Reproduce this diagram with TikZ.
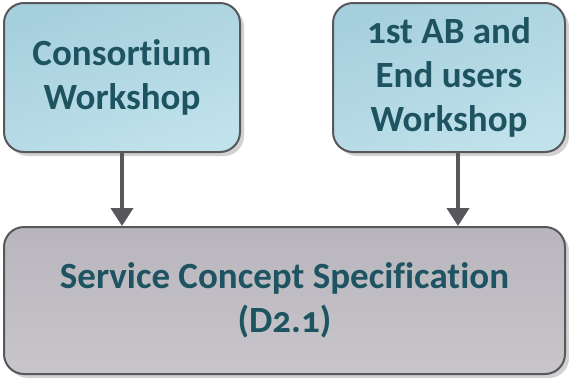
\documentclass[tikz,border=0pt]{standalone}
\usepackage{fontspec}
\setmainfont{Carlito}[Numbers=OldStyle,Ligatures=NoCommon]
\usetikzlibrary{arrows.meta,shadows}
\definecolor{txt}{HTML}{1E5461}
\definecolor{bordc}{HTML}{58575C}
\definecolor{blueA}{HTML}{A6CFDD}
\definecolor{blueB}{HTML}{C0E2EB}
\definecolor{grayA}{HTML}{B9B5BC}
\definecolor{grayB}{HTML}{C8C5CB}
\definecolor{shad}{HTML}{D2D2D2}
\tikzset{
  boxbase/.style={draw=bordc, line width=2pt, rounded corners=20pt, inner sep=0pt,
    font=\bfseries\fontsize{37}{44}\selectfont, text=txt, align=center,
    drop shadow={shadow xshift=4pt, shadow yshift=-4pt, fill=shad, opacity=1}},
  bluebox/.style={boxbase, top color=blueA, bottom color=blueB, shading angle=20},
  graybox/.style={boxbase, top color=grayA, bottom color=grayB},
  conn/.style={draw=bordc, line width=4pt, -{Triangle[length=18pt,width=22pt]}}
}
\begin{document}
\begin{tikzpicture}[x=1pt,y=-1pt]
\useasboundingbox (0,0) rectangle (569,378);
\node[bluebox, minimum width=236pt, minimum height=149pt] (cw) at (122,77.5) {Consortium\\Workshop};
\node[bluebox, minimum width=232pt, minimum height=149pt] (ab) at (449,77.5) {1st AB and\\End users\\Workshop};
\node[graybox, minimum width=561pt, minimum height=147pt] (sc) at (284.5,300.5) {Service Concept Specification\\(D2.1)};
\draw[conn] (cw.south) -- (sc.north -| cw.south);
\draw[conn] (ab.south) ++(9,0) coordinate (abs) -- (sc.north -| abs);
\end{tikzpicture}
\end{document}
